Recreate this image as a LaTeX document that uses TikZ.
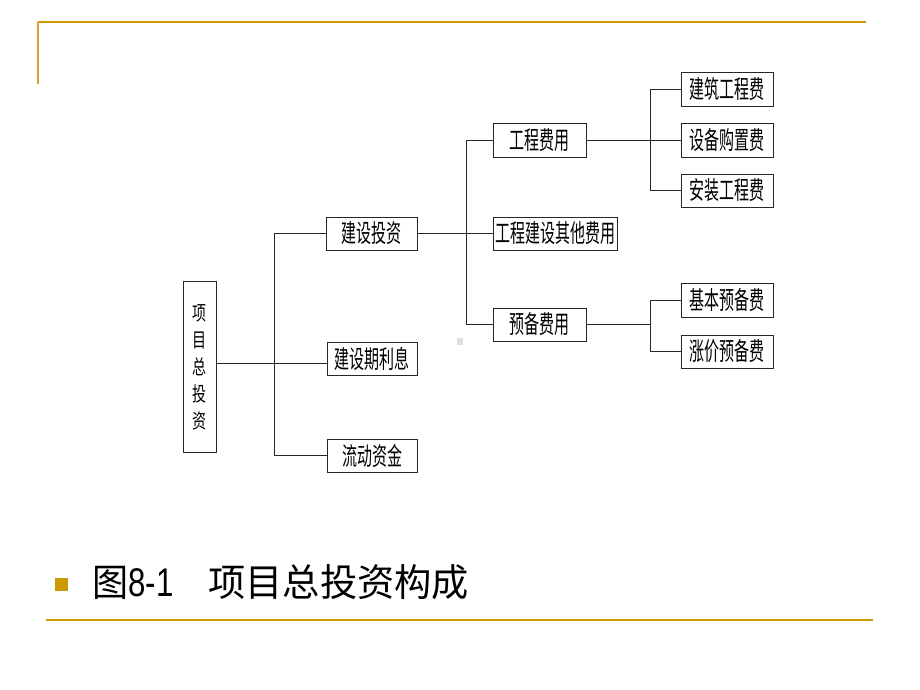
\documentclass[tikz,border=0pt]{standalone}
\usepackage{fontspec}
\newfontfamily\cjk{Noto Sans CJK SC}
\newfontfamily\lat{Liberation Sans}
\definecolor{gold}{HTML}{CC9900}
\definecolor{goldlt}{HTML}{D4A52A}
\newcommand{\nar}[1]{\scalebox{0.6}[1]{#1}}
\begin{document}
\begin{tikzpicture}[x=1pt,y=-1pt,
  box/.style={draw=black!85,line width=0.9pt,minimum height=33pt,inner sep=0pt,
    font=\cjk\fontsize{25}{25}\selectfont},
  conn/.style={draw=black!85,line width=0.9pt},
  rule/.style={draw=gold,line width=2pt}]
\useasboundingbox (0,0) rectangle (920,690);
% frame decoration
\coordinate (tl) at (38,22);
\coordinate (tr) at (866,22);
\coordinate (vl) at (38,84);
\coordinate (bl) at (46,620);
\coordinate (br) at (873,620);
\draw[rule] (tl) -- (tr);
\draw[draw=goldlt,line width=1.2pt] (tl) -- (vl);
\draw[rule] (bl) -- (br);
% nodes
\node[box,minimum width=33pt,minimum height=171pt,align=center,
  font=\cjk\fontsize{20}{27}\selectfont] (root) at (199.5,367)
  {\scalebox{0.7}[1]{项}\\\scalebox{0.7}[1]{目}\\\scalebox{0.7}[1]{总}\\\scalebox{0.7}[1]{投}\\\scalebox{0.7}[1]{资}};
\node[box,minimum width=91pt] (jstz) at (371.5,233.5) {\nar{建设投资}};
\node[box,minimum width=90pt] (jsq) at (372,359) {\nar{建设期利息}};
\node[box,minimum width=90pt] (ldzj) at (372,455.5) {\nar{流动资金}};
\node[box,minimum width=93pt,minimum height=34pt] (gcfy) at (539.5,140) {\nar{工程费用}};
\node[box,minimum width=124pt] (qt) at (555,233.5) {\nar{工程建设其他费用}};
\node[box,minimum width=93pt] (ybfy) at (539.5,324.5) {\nar{预备费用}};
\node[box,minimum width=92pt,minimum height=34pt] (jz) at (727,89) {\nar{建筑工程费}};
\node[box,minimum width=92pt,minimum height=34pt] (sb) at (727,140) {\nar{设备购置费}};
\node[box,minimum width=92pt] (az) at (727,190.5) {\nar{安装工程费}};
\node[box,minimum width=92pt,minimum height=34pt] (jb) at (727,300) {\nar{基本预备费}};
\node[box,minimum width=92pt] (zj) at (727,351.5) {\nar{涨价预备费}};
% connectors
\coordinate (t1) at (274,363);
\draw[conn] (root.east |- t1) -- (jsq.west |- t1);
\draw[conn] (jstz.west) -| (t1);
\draw[conn] (ldzj.west) -| (t1);
\coordinate (t2) at (466,233.5);
\draw[conn] (jstz.east) -- (qt.west);
\draw[conn] (gcfy.west) -| (t2);
\draw[conn] (ybfy.west) -| (t2);
\coordinate (t3) at (650,140);
\draw[conn] (gcfy.east) -- (sb.west);
\draw[conn] (jz.west) -| (t3);
\draw[conn] (az.west) -| (t3);
\coordinate (t4) at (650,324.5);
\draw[conn] (ybfy.east) -- (t4);
\draw[conn] (jb.west) -| (t4);
\draw[conn] (zj.west) -| (t4);
% small grey mark
\fill[black!12] (457,338) rectangle (463,345);
% caption
\node[fill=gold,minimum size=13pt,inner sep=0pt] (bullet) at (61,584.5) {};
\node[anchor=west,inner sep=0pt,font=\cjk\fontsize{38}{38}\selectfont] (cap) at (92,582)
  {\scalebox{0.95}[1]{图}{\lat\fontsize{40}{40}\selectfont\scalebox{0.78}[1]{8-1}}\hspace{35pt}\scalebox{0.98}[1]{项目总投资构成}};
\end{tikzpicture}
\end{document}
